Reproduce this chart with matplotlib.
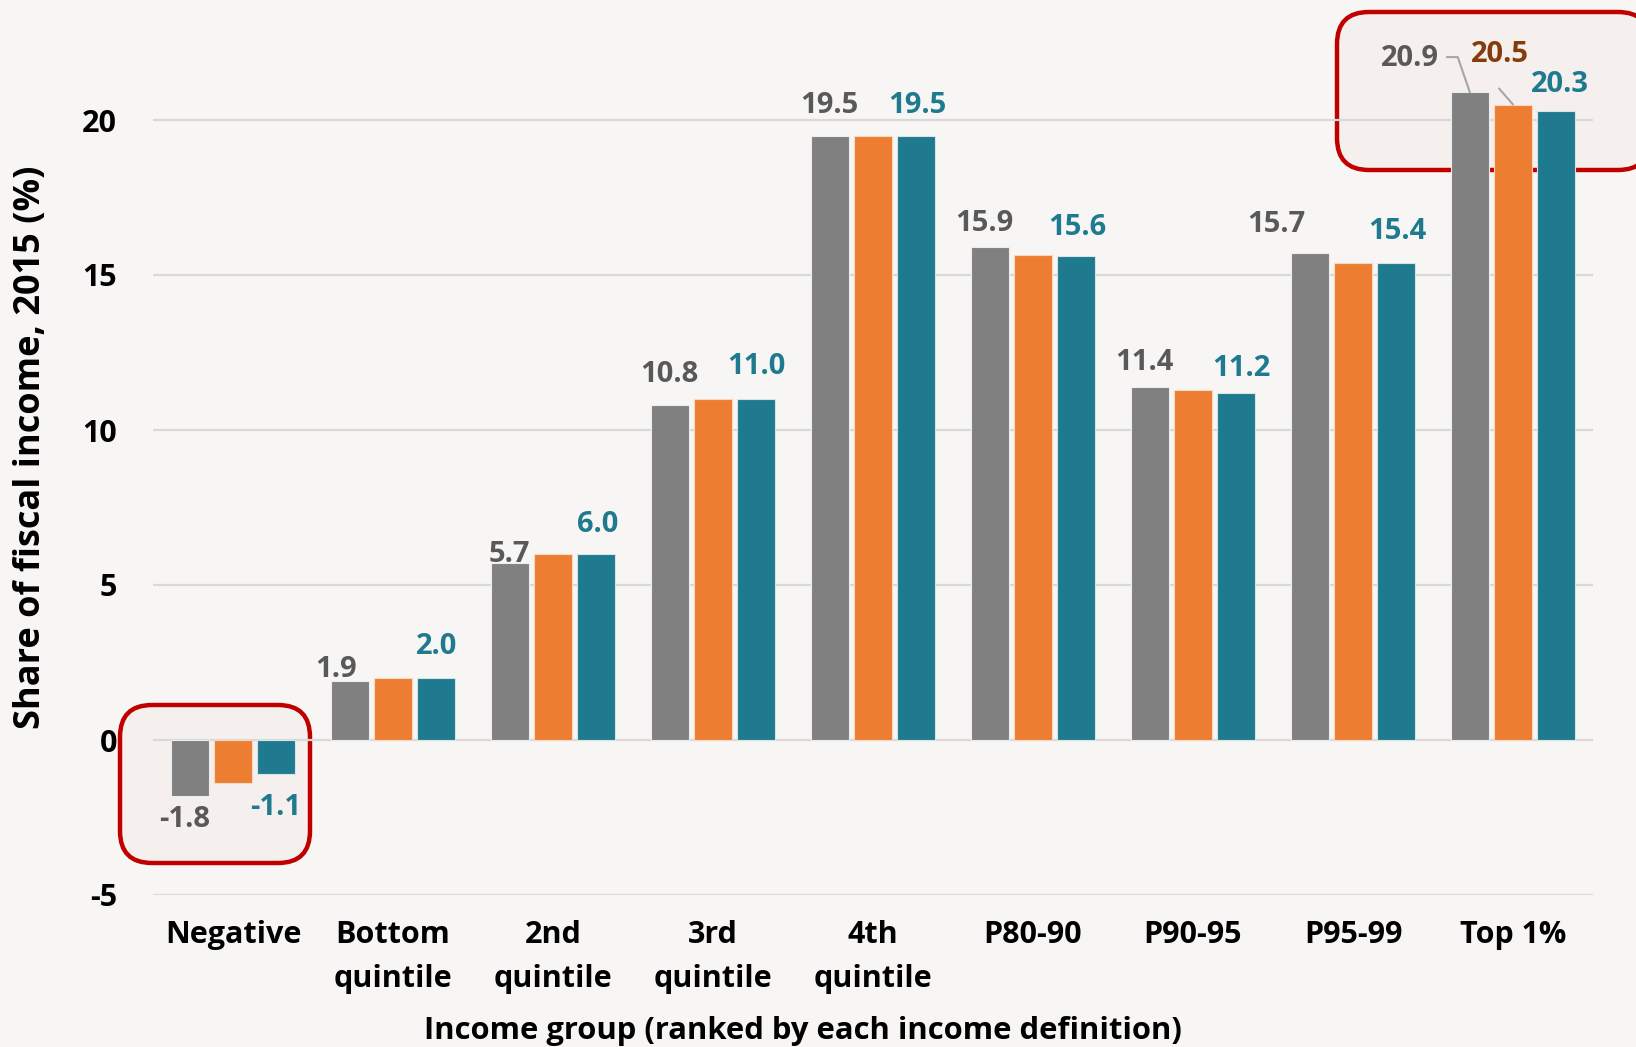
import matplotlib
matplotlib.use("Agg")
import matplotlib.pyplot as plt
from matplotlib.patches import FancyBboxPatch
import numpy as np

plt.rcParams['font.family'] = ['Open Sans', 'DejaVu Sans']
plt.rcParams['font.weight'] = 'bold'

# Data
categories = ["Negative", "Bottom\nquintile", "2nd\nquintile", "3rd\nquintile",
              "4th\nquintile", "P80-90", "P90-95", "P95-99", "Top 1%"]
series_a = [-1.8, 1.9, 5.7, 10.8, 19.5, 15.9, 11.4, 15.7, 20.9]   # grey
series_b = [-1.4, 2.0, 6.0, 11.0, 19.5, 15.65, 11.3, 15.4, 20.5]  # orange
series_c = [-1.1, 2.0, 6.0, 11.0, 19.5, 15.6, 11.2, 15.4, 20.3]   # teal
y_ticks = [-5, 0, 5, 10, 15, 20]

BG = "#F7F6F4"
GREY, ORANGE, TEAL = "#808080", "#ED7D31", "#1F7A8F"
GREY_TXT, TEAL_TXT, BROWN_TXT = "#595959", "#1F7A8F", "#843C0C"

W, H = 1636, 1047
fig = plt.figure(figsize=(W / 100, H / 100), dpi=100, facecolor=BG)

# Pixel-space backdrop for the highlight frames
bg = fig.add_axes([0, 0, 1, 1], zorder=0)
bg.set_xlim(0, W)
bg.set_ylim(H, 0)
bg.axis("off")
for (x0, y0, x1, y1) in [(120, 705, 310, 863), (1337, 12, 1650, 170)]:
    bg.add_patch(FancyBboxPatch((x0, y0), x1 - x0, y1 - y0,
                                boxstyle="round,pad=0,rounding_size=32",
                                facecolor="#F5F0ED", edgecolor="#C00000",
                                linewidth=3.2, clip_on=False))

ax = fig.add_axes([153 / W, 1 - 895 / H, 1440 / W, 852.5 / H], zorder=1)
ax.set_facecolor("none")

x = np.arange(len(categories))
bw = 0.235
step = 0.27
ax.bar(x - step, series_a, bw, color=GREY, edgecolor="#EDEDED", linewidth=0.8, zorder=3)
ax.bar(x, series_b, bw, color=ORANGE, edgecolor="#F6D9C4", linewidth=0.8, zorder=3)
ax.bar(x + step, series_c, bw, color=TEAL, edgecolor="#D6E4E8", linewidth=0.8, zorder=3)

ax.set_xlim(-0.5, len(categories) - 0.5)
ax.set_ylim(-5, 22.5)
ax.set_yticks(y_ticks)
ax.set_yticklabels([str(t) for t in y_ticks])
ax.set_xticks(x)
ax.set_xticklabels(categories, linespacing=1.6)
ax.tick_params(axis="both", length=0, labelsize=22, colors="black")
ax.tick_params(axis="y", pad=26)
ax.tick_params(axis="x", pad=18)
ax.yaxis.grid(True, color="#D9D9D9", linewidth=1.6, zorder=0)
ax.set_axisbelow(True)
for s in ax.spines.values():
    s.set_visible(False)

# Value labels: (dx, dy) offsets in pixels from the bar end
grey_off = [(-5, -24), (-14, 12), (0, 9), (0, 31), (0, 30), (-5, 24), (-5, 24), (-34, 29), (-60, 34)]
teal_off = [(-1, -33), (0, 31), (1, 30), (0, 33), (1, 30), (1, 29), (5, 24), (1, 31), (4, 26)]

lab_kw = dict(textcoords="offset pixels", ha="center", va="center",
              fontsize=21, fontweight="bold", zorder=5)
for i in range(len(categories)):
    ax.annotate(f"{series_a[i]:.1f}", xy=(x[i] - step, series_a[i]),
                xytext=grey_off[i], color=GREY_TXT, **lab_kw)
    ax.annotate(f"{series_c[i]:.1f}", xy=(x[i] + step, series_c[i]),
                xytext=teal_off[i], color=TEAL_TXT, **lab_kw)

# Top 1%: orange label and leader lines
last = len(categories) - 1
ax.annotate(f"{series_b[last]:.1f}", xy=(x[last], series_b[last]),
            xytext=(-13, 50), color=BROWN_TXT, **lab_kw)
ax.annotate("", xy=(x[last], series_b[last]), xytext=(-14, 16),
            textcoords="offset pixels",
            arrowprops=dict(arrowstyle="-", color="#A6A6A6", lw=1.5,
                            shrinkA=0, shrinkB=0), zorder=5)
ax.annotate("", xy=(x[last] - step, series_a[last]), xytext=(-23, 35),
            textcoords="offset pixels",
            arrowprops=dict(arrowstyle="-", color="#A6A6A6", lw=1.5,
                            shrinkA=0, shrinkB=0,
                            connectionstyle="angle,angleA=0,angleB=109,rad=0"),
            zorder=5)

fig.text(31 / W, 1 - 447 / H, "Share of fiscal income, 2015 (%)", rotation=90,
         ha="center", va="center", fontsize=26, fontweight="bold")
fig.text(803 / W, 1 - 1031 / H, "Income group (ranked by each income definition)",
         ha="center", va="center", fontsize=22.3, fontweight="bold")

fig.savefig("out.png", dpi=100, facecolor=BG)
